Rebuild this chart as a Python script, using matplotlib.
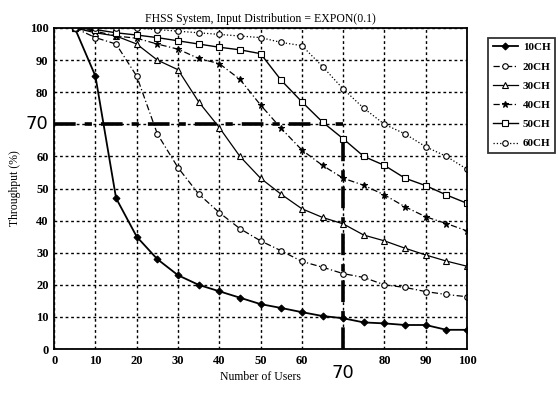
import matplotlib
matplotlib.use("Agg")
import matplotlib.pyplot as plt

users = [5, 10, 15, 20, 25, 30, 35, 40, 45, 50, 55, 60, 65, 70, 75, 80, 85, 90, 95, 100]
ch10 = [100, 85, 47, 35, 28, 23, 20, 18, 16, 14, 12.8, 11.5, 10.3, 9.6, 8.3, 8, 7.5, 7.5, 6, 6]
ch20 = [100, 97, 95, 85, 67, 56.5, 48.3, 42.5, 37.5, 33.7, 30.6, 27.3, 25.5, 23.5, 22.3, 20, 19.2, 17.9, 17, 16.3]
ch30 = [100, 98.5, 97.5, 95, 90, 87, 77, 69, 60, 53.2, 48.2, 43.7, 41, 39, 35.5, 33.7, 31.4, 29.3, 27.4, 25.8]
ch40 = [100, 99, 97.5, 96.8, 95, 93.4, 90.5, 88.9, 84, 76, 68.7, 62, 57.2, 53.2, 51, 48, 44.3, 41.2, 39.1, 36.8]
ch50 = [100, 99.5, 98.5, 97.8, 97, 96, 95, 94, 93.2, 92, 83.7, 77, 70.7, 65.5, 60, 57.2, 53.2, 50.9, 48, 45.4]
ch60 = [100, 100, 100, 100, 99.5, 99, 98.5, 98, 97.5, 97, 95.5, 94.5, 88, 81, 75, 70, 67, 63, 60, 56]
labels = ["10CH", "20CH", "30CH", "40CH", "50CH", "60CH"]
xticks = [0, 10, 20, 30, 40, 50, 60, 70, 80, 90, 100]
yticks = [0, 10, 20, 30, 40, 50, 60, 70, 80, 90, 100]
mark_level = 70
mark_users = 70
mark_top = 65.5

plt.rcParams['font.family'] = ['Liberation Serif', 'DejaVu Serif']

fig = plt.figure(figsize=(5.58, 3.94), dpi=100)
ax = fig.add_axes([0.097, 0.114, 0.740, 0.815])

series = [ch10, ch20, ch30, ch40, ch50, ch60]
styles = [
    dict(ls='-', marker='D', ms=3.5, mfc='black', lw=1.3),
    dict(ls=(0, (5, 2, 1, 2)), marker='o', ms=4, mfc='white', lw=0.9),
    dict(ls='-', marker='^', ms=5, mfc='white', lw=0.9),
    dict(ls=(0, (5, 2, 1, 2)), marker='*', ms=5, mfc='black', lw=0.9),
    dict(ls='-', marker='s', ms=5, mfc='white', lw=1.0),
    dict(ls=':', marker='o', ms=4, mfc='white', lw=0.9),
]
for s, lab, st in zip(series, labels, styles):
    ax.plot(users, s, color='black', mec='black', mew=0.8, label=lab, **st)

ax.plot([0, mark_users], [mark_level, mark_level], color='black', lw=2.6,
        ls=(0, (6, 2.5, 2, 2.5)), zorder=1)
ax.plot([mark_users, mark_users], [0, mark_top], color='black', lw=2.6,
        ls=(0, (6, 2.5, 2, 2.5)), zorder=1)

ax.set_xlim(0, 100)
ax.set_ylim(0, 100)
ax.set_xticks(xticks)
ax.set_yticks(yticks)
ax.set_xticklabels([str(t) if t != 70 else '' for t in xticks], fontsize=9, fontweight='bold')
ax.set_yticklabels([str(t) if t != 70 else '' for t in yticks], fontsize=9, fontweight='bold')
ax.grid(True, color='black', ls=(0, (2, 2)), lw=1.0)
ax.tick_params(length=0, pad=4)
for sp in ax.spines.values():
    sp.set_linewidth(1.3)

ax.text(-1.5, mark_level, str(mark_level), ha='right', va='center', fontsize=13,
        transform=ax.transData, family=['DejaVu Sans'])
ax.text(mark_users, -7.5, str(mark_users), ha='center', va='center', fontsize=13,
        transform=ax.transData, family=['DejaVu Sans'])

ax.set_title("FHSS System, Input Distribution = EXPON(0.1)", fontsize=8.5, pad=4)
ax.set_xlabel("Number of Users", fontsize=8.5, labelpad=3)
ax.set_ylabel("Throughput (%)", fontsize=8.5, labelpad=6)

leg = ax.legend(loc='upper left', bbox_to_anchor=(1.05, 0.97),
                frameon=True, fancybox=False, edgecolor='black', handlelength=2.3,
                handletextpad=0.4, borderpad=0.45, borderaxespad=0.0,
                labelspacing=0.85, prop={'weight': 'bold', 'size': 8})
leg.get_frame().set_linewidth(1.3)

fig.savefig("out.png", dpi=100)
